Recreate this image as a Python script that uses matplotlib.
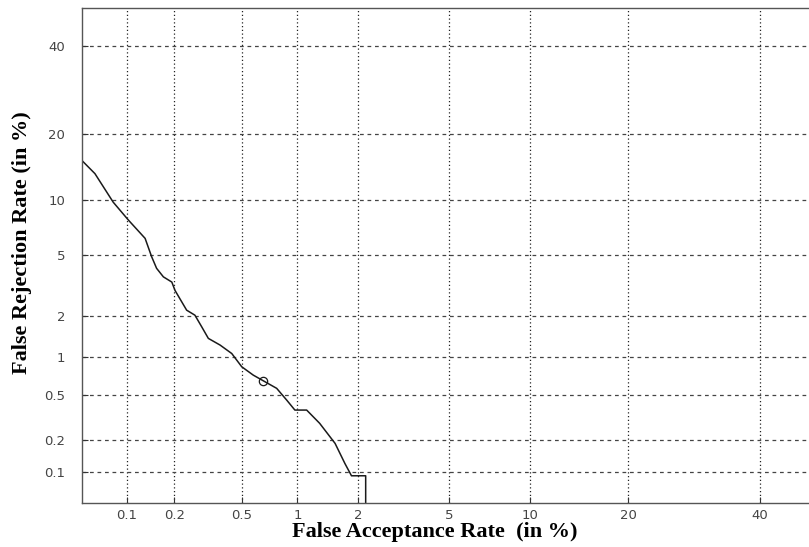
import numpy as np
import matplotlib
matplotlib.use("Agg")
import matplotlib.pyplot as plt
from statistics import NormalDist

# DET curve data (in %)
far = [0.0496, 0.061, 0.081, 0.102, 0.131, 0.144, 0.155, 0.171, 0.193, 0.202,
       0.238, 0.267, 0.293, 0.321, 0.376, 0.439, 0.50, 0.58, 0.658, 0.778,
       0.879, 0.971, 1.117, 1.30, 1.55, 1.73, 1.86, 2.17, 2.17]
frr = [15.5, 13.5, 9.8, 7.9, 6.25, 4.9, 4.15, 3.67, 3.4, 3.0,
       2.21, 2.04, 1.69, 1.39, 1.24, 1.07, 0.845, 0.725, 0.653, 0.566,
       0.452, 0.371, 0.371, 0.284, 0.187, 0.121, 0.092, 0.092, 0.03]
eer_far = [0.658]
eer_frr = [0.653]

xticks = [0.1, 0.2, 0.5, 1, 2, 5, 10, 20, 40]
yticks = [0.1, 0.2, 0.5, 1, 2, 5, 10, 20, 40]

nd = NormalDist()
_ppf = np.vectorize(lambda p: nd.inv_cdf(p), otypes=[float])
_cdf = np.vectorize(lambda z: nd.cdf(z), otypes=[float])

def fwd(v):
    v = np.clip(np.asarray(v, dtype=float) / 100.0, 1e-9, 1 - 1e-9)
    return _ppf(v)

def inv(z):
    return _cdf(np.asarray(z, dtype=float)) * 100.0

fig = plt.figure(figsize=(8.09, 5.47), dpi=100)
ax = fig.add_axes([82/809, 1 - 503/547, 734/809, 495/547])
ax.set_xscale('function', functions=(fwd, inv))
ax.set_yscale('function', functions=(fwd, inv))

ax.plot(far, frr, color='#1a1a1a', lw=1.1)
ax.plot(eer_far, eer_frr, 'o', mfc='none', mec='#1a1a1a', ms=6, mew=0.9)

ax.set_xlim(0.0497, 50)
ax.set_ylim(0.049, 50)

ax.set_xticks(xticks)
ax.set_xticklabels([str(t) for t in xticks])
ax.set_yticks(yticks)
ax.set_yticklabels([str(t) for t in yticks])
ax.minorticks_off()

ax.tick_params(direction='in', length=4, width=0.8, colors='#333333',
               labelsize=9.5, labelcolor='#444444')
ax.tick_params(axis='x', pad=4)
ax.tick_params(axis='y', pad=12)

ax.xaxis.grid(True, linestyle=(0, (1, 2)), color='#222222', lw=0.9)
ax.yaxis.grid(True, linestyle=(0, (3, 3)), color='#444444', lw=0.9)

for s in ax.spines.values():
    s.set_color('#555555')
    s.set_linewidth(1.0)

ax.set_xlabel('False Acceptance Rate  (in %)', family='Liberation Serif',
              fontweight='bold', fontsize=16)
ax.set_ylabel('False Rejection Rate (in %)', family='Liberation Serif',
              fontweight='bold', fontsize=16)
ax.xaxis.set_label_coords(0.481, -0.038)
ax.yaxis.set_label_coords(-0.068, 0.525)

fig.savefig('out.png', dpi=100)
